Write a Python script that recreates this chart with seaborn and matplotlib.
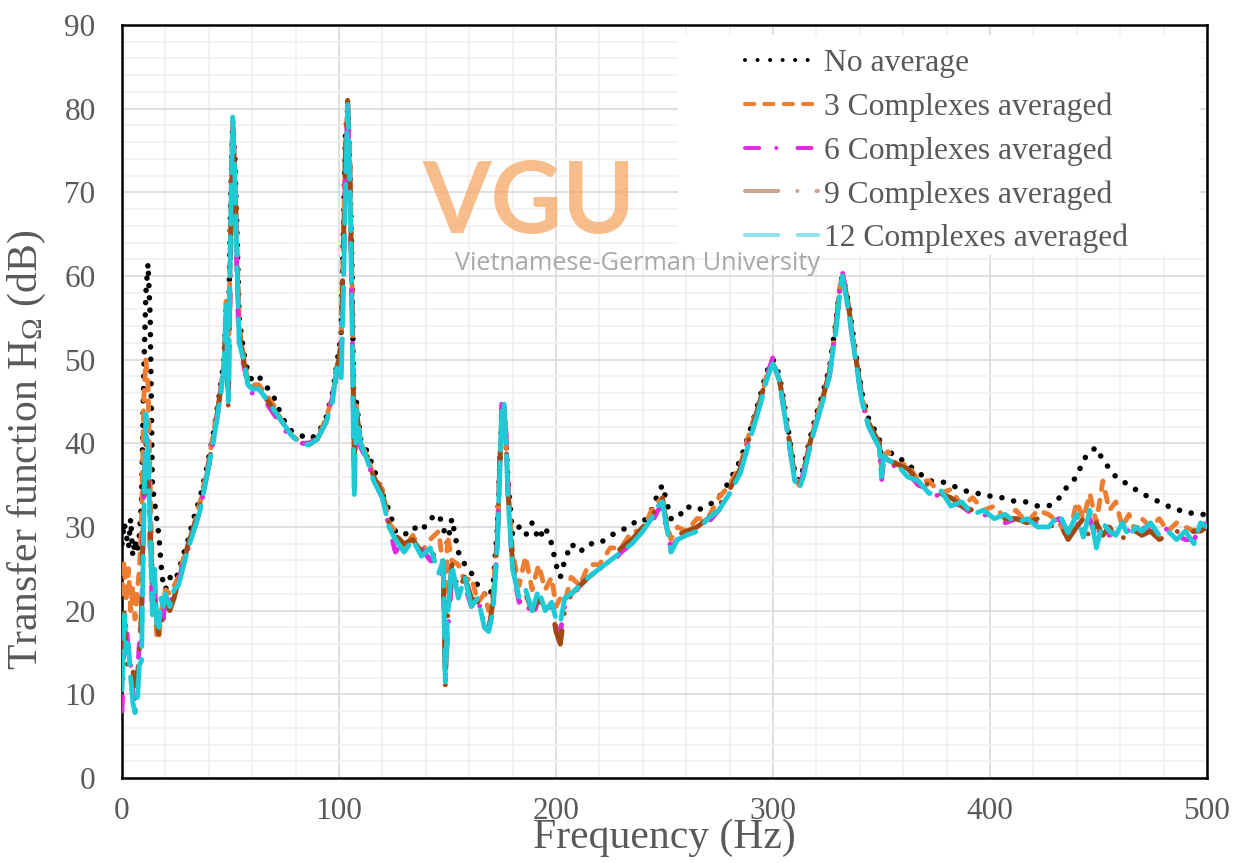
import matplotlib
matplotlib.use("Agg")
import matplotlib.pyplot as plt
from matplotlib.lines import Line2D
from matplotlib.patches import Rectangle
from matplotlib.ticker import MultipleLocator
import seaborn as sns
import pandas as pd

# ---------------- data ----------------
freq = [
    0, 1, 2, 3, 4, 5, 6, 7, 8, 9, 10, 11, 12, 13, 14, 15, 16, 17, 18, 19, 20,
    22, 24, 26, 28, 30, 33, 36, 39, 42, 45, 47, 48, 49, 50, 51, 52, 53, 54, 56, 58, 60,
    63, 66, 70, 74, 78, 82, 86, 90, 94, 97, 99, 101, 102, 103, 104, 105, 106, 107, 108, 110,
    113, 116, 120, 123, 126, 130, 134, 138, 142, 146, 148, 149, 150, 152, 155, 158, 161, 164, 167, 169,
    171, 173, 174, 175, 176, 177, 178, 180, 183, 186, 189, 192, 195, 198, 200, 202, 204, 207, 211, 215,
    220, 225, 230, 235, 240, 244, 247, 249, 251, 253, 256, 260, 265, 270, 275, 280, 285, 290, 294, 297,
    299, 300, 301, 303, 305, 308, 310, 312, 314, 317, 320, 323, 326, 329, 331, 332, 333, 335, 338, 341,
    344, 347, 349, 350, 351, 353, 357, 362, 367, 372, 377, 382, 387, 392, 397, 402, 407, 412, 417, 422,
    427, 432, 436, 440, 443, 446, 449, 452, 455, 458, 461, 464, 467, 470, 474, 478, 482, 486, 490, 494, 497, 500,
]

no_average = [
    28, 30.5, 29, 27.5, 31, 26.5, 28.5, 27, 29, 33, 48, 58, 61.5, 55, 35, 33, 31, 29, 25.5, 23, 22.5,
    24, 23.5, 24.5, 26.5, 28, 31, 33.5, 37, 41, 46, 50, 56, 52, 68, 78.5, 74, 65, 55, 51, 48.5, 47.5,
    48, 47, 45.5, 43, 41.5, 41, 40.5, 41, 43, 46, 49.5, 53, 65, 77, 80, 73, 61, 40, 45, 40.5,
    39, 37, 34, 32, 29.5, 29, 30, 29.5, 31, 31.5, 30, 29, 28, 31, 27, 25.5, 24.5, 23, 22, 21.5,
    23, 30, 37, 43, 44, 40, 35, 29, 30, 29, 30.5, 28.5, 30, 28, 25.5, 24, 26, 28, 27, 28,
    28, 29, 29.5, 30.5, 30.5, 32, 34, 35, 33, 31, 31, 32.5, 32, 32.5, 33.5, 35.5, 38, 42, 45.5, 48.5,
    49.5, 50, 49.5, 48, 45, 40, 36.5, 35.5, 37, 40.5, 43.5, 46, 49, 54.5, 59, 60, 59, 56.5, 51, 46,
    43, 41.5, 40.5, 38, 39, 39, 38.5, 37.5, 36.5, 35.5, 35.5, 35, 34.5, 34, 34, 33.5, 33.5, 33, 33, 32.5,
    32.5, 33.5, 35, 36, 38, 39, 39.5, 38, 37, 36, 35.5, 35, 34.5, 34, 33.5, 33, 32.5, 32, 32, 31.5, 31.5, 31.5,
]

avg_3 = [
    22, 26, 21, 25, 20, 23, 19, 22, 25, 30, 45, 50, 47, 35, 24, 22, 17, 16.5, 20, 21, 22.5,
    22, 23, 24, 26, 27.5, 30, 33, 36.5, 41, 45.5, 49.5, 57, 48, 66, 79, 73, 64, 54, 50.5, 47.5, 47,
    47, 46, 44.5, 42.5, 41, 40.2, 40, 40.5, 43, 45.5, 49, 52, 64, 76, 80.5, 74, 60, 37, 44.5, 40,
    38.5, 36, 34.5, 30.5, 29.5, 27.5, 29, 27, 28.5, 29.5, 25, 18, 29, 26, 25.5, 23.5, 24, 21, 22, 20,
    22, 29, 37, 43.5, 44.5, 40, 34, 27, 23, 26.5, 22.5, 25.5, 22.5, 24, 20.5, 21.5, 21, 24, 23, 25.5,
    25.5, 27.5, 27.5, 29.5, 29.5, 32, 33, 33.5, 30.5, 28.5, 30, 29.5, 31, 31, 33.5, 35, 37.5, 42, 45, 48,
    49, 49.5, 49, 47.5, 44.5, 39.5, 36, 35, 36.5, 40, 43, 45.5, 48.5, 54, 59, 60, 59, 56, 50.5, 45.5,
    42.5, 41, 40, 37, 38.5, 39, 37.5, 37.5, 35.5, 35.5, 34, 34.5, 32.5, 33.5, 32, 32.5, 31, 32, 30.5, 32,
    31.5, 30.5, 28.5, 33, 31, 34, 30.5, 35.5, 32, 33, 30, 31.5, 29.5, 31, 30, 31, 29.5, 30.5, 30, 29.5, 30.5, 30,
]

avg_6 = [
    8, 16, 19, 14, 13.5, 10, 9.5, 12, 16, 17, 33, 41, 37, 27, 20, 23, 19, 18.5, 20, 19, 21.5,
    21, 22, 23.5, 25.5, 27, 29.5, 32, 36, 40, 45, 48.5, 55, 46, 60, 78.5, 70, 60, 51, 49.5, 47, 46,
    46, 45, 43.5, 42, 40.5, 40, 40, 40.5, 42.5, 45.5, 50, 50, 60, 72, 80, 70, 55, 36, 43, 39.5,
    38, 35.5, 33.5, 30, 27, 28.5, 27, 27.5, 26, 25.5, 23.5, 12, 17, 24, 22.5, 23, 20.5, 21.5, 18, 18,
    20, 28, 37, 45, 45.5, 41, 33, 25, 21, 21.5, 19, 21.5, 20, 20.5, 18, 17.5, 20.5, 21.5, 23, 24,
    25, 25.5, 27, 28, 29.5, 30.5, 32, 32.5, 29.5, 27.5, 28.5, 29, 29.5, 30.5, 32, 34, 37, 41.5, 45, 48,
    49.5, 50.3, 49.5, 47.5, 44, 39, 35.5, 34.5, 36.5, 39.5, 42.5, 45, 48, 54, 59, 60.5, 59, 55.5, 50, 45,
    42, 40.5, 39.5, 35.5, 38, 38, 37, 36.5, 35, 34.5, 33.5, 33, 32.5, 31.5, 31.5, 31, 30.5, 31, 30.5, 30.5,
    30.5, 31, 29.5, 30.5, 29.5, 31, 28.5, 31, 29, 29.5, 30, 29.5, 29, 30, 29.5, 28.5, 30, 29, 28.5, 28.5, 30, 30.5,
]

avg_9 = [
    12, 20, 14, 13, 12.5, 13, 11, 12, 15, 20, 34, 40, 36, 30, 22, 21, 19, 17, 18.5, 19.5, 21,
    20, 21.5, 23.5, 25, 27.5, 30, 32.5, 36, 40.5, 45.5, 49, 55, 44, 63, 78, 71, 62, 53, 50, 47.5, 46.5,
    46.5, 45.5, 44, 42.5, 41, 40, 39.8, 40.5, 42.5, 45, 48.5, 52, 63, 75, 81, 73, 58, 38, 44, 40,
    38.5, 36, 34, 30.5, 29, 28, 28.5, 27, 27.5, 25.5, 25.5, 11, 19, 25.5, 22.5, 24, 21.5, 21, 18.5, 17.8,
    21, 28.5, 37, 43, 44, 40, 34, 25.5, 21.5, 22, 20, 21.5, 20, 20.5, 17.5, 16, 20, 22, 23, 24,
    25, 26, 27.5, 28.5, 30, 31, 33, 33.5, 30, 27.5, 29, 29.5, 30, 31, 32.5, 34.5, 37, 41.5, 45, 48,
    49, 49.5, 49, 47.5, 44.5, 39.5, 36, 35, 36.5, 40, 43, 45.5, 48.5, 54, 59, 60, 59, 56, 50.5, 45.5,
    42.5, 41, 40, 36.5, 38.5, 38, 37.5, 37, 35.5, 35, 34, 33.5, 32.5, 32, 31.5, 31.5, 31, 31, 30.5, 31,
    30, 30.5, 28.5, 30, 31, 28.5, 30.5, 29, 30, 29, 28.5, 30, 29.5, 29, 29.5, 28.5, 29, 29.5, 29, 29.5, 29.5, 30,
]

avg_12 = [
    10.5, 19.5, 15, 16, 12, 9, 7.8, 9, 13.5, 14, 30, 43.5, 39, 30, 19.5, 25, 18.5, 18, 21.5, 20.5, 22,
    20.5, 22.5, 23, 25, 27, 29.5, 32, 36, 40, 45, 49, 56.5, 45, 65, 79, 72, 61.5, 52, 50, 47, 46.5,
    46.5, 45.5, 44, 42.5, 41, 40, 39.8, 40.5, 42.5, 45, 49, 47.5, 58, 70, 80.5, 72, 55, 33.5, 44, 40,
    38, 35.5, 33.5, 30, 28.5, 27, 28.5, 26.5, 27.5, 24.5, 26, 11.5, 19, 25.5, 21.5, 24, 20.5, 21.5, 18, 17.5,
    20, 28, 36, 44, 45, 40, 33, 25, 21.5, 22.5, 20, 22.5, 20, 21, 19, 18.5, 21.5, 22, 23, 24,
    25, 26, 27, 28, 29.5, 31, 32.5, 33, 30, 27, 28.5, 29, 29.5, 31, 32, 34, 36.5, 41, 44.5, 47.5,
    49, 49.5, 49, 47.5, 44, 39, 35.5, 34.5, 36, 39.5, 42.5, 45, 48, 53.5, 58.5, 60, 58.5, 55.5, 50, 45,
    42, 40.5, 39.5, 36, 38.5, 38, 37.5, 36, 35.5, 34, 34.5, 32.5, 33, 31.5, 32, 31, 31.5, 30.5, 31, 30,
    30, 31.5, 29.3, 31.5, 28.8, 32, 27.5, 30.5, 29.5, 29, 30.5, 28.8, 30, 29.5, 30.5, 29, 29.5, 28.5, 29.5, 28, 30.5, 30,
]

series_labels = ["No average", "3 Complexes averaged", "6 Complexes averaged",
                 "9 Complexes averaged", "12 Complexes averaged"]
x_ticks = [0, 100, 200, 300, 400, 500]
y_ticks = [0, 10, 20, 30, 40, 50, 60, 70, 80, 90]

# ---------------- style ----------------
sns.set_style("white")
plt.rcParams["font.family"] = ["Liberation Serif", "DejaVu Serif"]
plt.rcParams["mathtext.fontset"] = "custom"
plt.rcParams["mathtext.rm"] = "Liberation Serif"
plt.rcParams["mathtext.it"] = "Liberation Serif:italic"
plt.rcParams["mathtext.bf"] = "Liberation Serif:bold"

TEXT = "#595959"
LW = 3.5
LEG_LW = 2.9
# plot styles
styles = [
    dict(color="#000000", lw=4.0, ls=(0, (0.01, 2.2))),
    dict(color="#ED7D31", lw=LW, ls=(0, (2.0, 2.2))),
    dict(color="#E02BE0", lw=LW, ls=(0, (3.0, 3.6, 0.01, 4.4))),
    dict(color="#A04A12", lw=LW, ls=(0, (7.0, 3.6, 0.01, 3.6))),
    dict(color="#1ECAD6", lw=LW, ls=(0, (8.0, 2.6))),
]
# legend handle styles
leg_styles = [
    dict(color="#000000", lw=LEG_LW, ls=(0, (0.01, 3.1)), alpha=1.0),
    dict(color="#ED7D31", lw=LEG_LW, ls=(0, (2.3, 2.5)), alpha=1.0),
    dict(color="#E02BE0", lw=LEG_LW, ls=(0, (3.5, 4.25, 0.01, 5.25)), alpha=1.0),
    dict(color="#A04A12", lw=LEG_LW, ls=(0, (8.25, 4.75, 0.01, 4.75)), alpha=0.5),
    dict(color="#1ECAD6", lw=LEG_LW, ls=(0, (8.25, 4.75)), alpha=0.5),
]
all_values = [no_average, avg_3, avg_6, avg_9, avg_12]
for v in all_values:
    assert len(v) == len(freq), len(v)

fig = plt.figure(figsize=(12.42, 8.63), dpi=100)
ax = fig.add_axes([122 / 1242, 1 - 778 / 863, 1085 / 1242, 753 / 863])

for label, vals, st in zip(series_labels, all_values, styles):
    df = pd.DataFrame({"Frequency": freq, "H": vals})
    sns.lineplot(data=df, x="Frequency", y="H", ax=ax, color=st["color"],
                 linewidth=st["lw"], linestyle=st["ls"], errorbar=None,
                 dash_capstyle="round", solid_capstyle="round", zorder=3)

ax.set_xlim(0, 500)
ax.set_ylim(0, 90)
ax.set_xticks(x_ticks)
ax.set_yticks(y_ticks)
ax.xaxis.set_minor_locator(MultipleLocator(20))
ax.yaxis.set_minor_locator(MultipleLocator(2))
ax.set_axisbelow(True)
ax.grid(which="major", color="#D9D9D9", linewidth=1.2)
ax.grid(which="minor", color="#F0F0F0", linewidth=1.2)
ax.tick_params(which="both", length=0)
ax.tick_params(axis="x", pad=14, labelsize=22.5, labelcolor=TEXT)
ax.tick_params(axis="y", pad=19, labelsize=22.5, labelcolor=TEXT)
for sp in ax.spines.values():
    sp.set_color("black")
    sp.set_linewidth(1.8)
    sp.set_visible(True)

ax.set_xlabel("Frequency (Hz)", fontsize=30, color=TEXT)
ax.xaxis.set_label_coords(0.5, -0.054)
ax.set_ylabel(r"Transfer function H$_\mathregular{\Omega}$ (dB)", fontsize=30, color=TEXT)
ax.yaxis.set_label_coords(-0.068, 0.436)

# white legend panel
ax.add_patch(Rectangle((0.512, 0.6946), 0.4815, 0.292, transform=ax.transAxes,
                       facecolor="white", edgecolor="none", zorder=1.5))

# watermark logo
ax.text(0.375, 0.7238, "VGU", transform=ax.transAxes, ha="center", va="baseline",
        fontsize=71, fontfamily="Lato", fontweight="bold", color="#F5AE6F",
        alpha=0.8, zorder=1.6)
ax.text(0.4755, 0.6746, "Vietnamese-German University", transform=ax.transAxes,
        ha="center", va="baseline", fontsize=18.2, fontfamily="Open Sans",
        color="#A8A8A8", zorder=1.6)

handles = [Line2D([0], [0], color=st["color"], lw=st["lw"], linestyle=st["ls"],
                  alpha=st["alpha"], dash_capstyle="round")
           for st in leg_styles]
leg = ax.legend(handles, series_labels, loc="upper left", bbox_to_anchor=(0.574, 0.968),
                frameon=False, fontsize=22.8, handlelength=2.3, handletextpad=0.2,
                labelspacing=0.45, borderpad=0, borderaxespad=0)
for t in leg.get_texts():
    t.set_color(TEXT)
leg.set_zorder(5)

fig.savefig("out.png", dpi=100)
